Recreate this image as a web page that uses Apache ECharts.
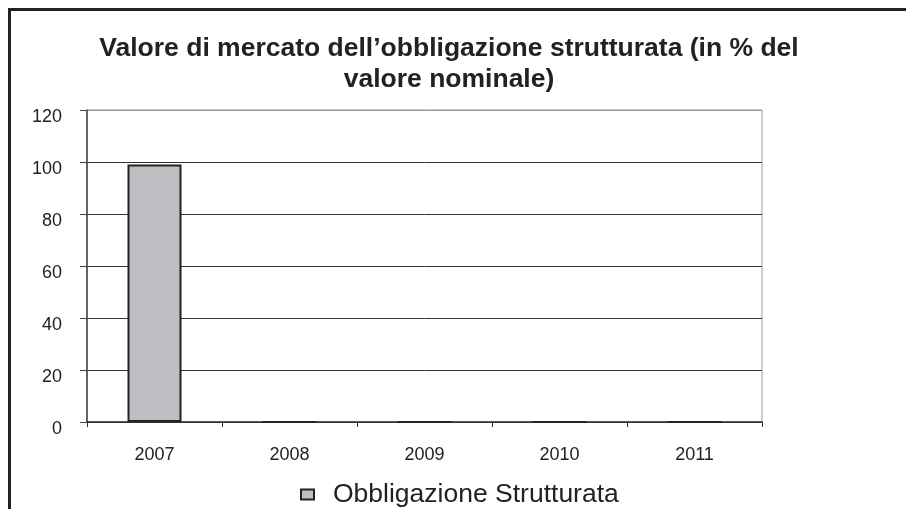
<!DOCTYPE html>
<html>
<head>
<meta charset="utf-8">
<script src="https://cdn.jsdelivr.net/npm/echarts@6/dist/echarts.min.js"></script>
<style>
  html, body { margin: 0; padding: 0; background: #fff; }
  #main { width: 906px; height: 509px; }
</style>
</head>
<body>
<div id="main"></div>
<script>
var years = ['2007', '2008', '2009', '2010', '2011'];
var valori = [99, 0, 0, 0, 0];
var seriesName = 'Obbligazione Strutturata';
var titolo = 'Valore di mercato dell\u2019obbligazione strutturata (in % del\nvalore nominale)';

var dom = document.getElementById('main');
var myChart = echarts.init(dom);
var font = 'Liberation Sans, Arial, sans-serif';

var option = {
    animation: false,
    textStyle: { fontFamily: font },
    title: {
        text: titolo,
        left: 444, top: 28, textAlign: 'center',
        textStyle: { fontSize: 26.5, lineHeight: 31, fontWeight: 'bold', color: '#222', fontFamily: font }
    },
    legend: {
        top: 476,
        left: 295,
        itemWidth: 13,
        itemHeight: 10,
        icon: 'rect',
        textStyle: { fontSize: 26.5, color: '#222', fontFamily: font, padding: [0, 0, 0, 14] },
        data: [seriesName]
    },
    grid: {
        left: 87, right: 144, top: 110, bottom: 87,
        show: true,
        borderColor: '#999',
        borderWidth: 1
    },
    xAxis: {
        type: 'category',
        data: years,
        axisLine: { lineStyle: { color: '#333', width: 1.5 } },
        axisTick: { show: true, length: 5, lineStyle: { color: '#333' } },
        axisLabel: { fontSize: 18, color: '#222', margin: 24 },
        splitLine: { show: false }
    },
    yAxis: {
        type: 'value',
        min: 0, max: 120, interval: 20,
        axisLine: { show: true, lineStyle: { color: '#444', width: 1.5 } },
        axisTick: { show: true, length: 7, lineStyle: { color: '#444' } },
        axisLabel: { fontSize: 18, lineHeight: 14, verticalAlign: 'top', color: '#222', margin: 25 },
        splitLine: {
            show: true,
            lineStyle: { color: ['#333', '#333', '#333', '#333', '#333', '#333', '#999'], width: 1 }
        }
    },
    series: [
        {
            name: seriesName,
            type: 'bar',
            barWidth: 54,
            data: valori,
            itemStyle: { color: '#bebfc3', borderColor: '#222', borderWidth: 2 }
        }
    ],
    graphic: [
        {
            type: 'polyline',
            shape: { points: [[9.5, 509], [9.5, 9.5], [906, 9.5]] },
            style: { stroke: '#222', lineWidth: 3, fill: null },
            silent: true
        }
    ]
};

myChart.setOption(option);
window.addEventListener('resize', function () { myChart.resize(); });
</script>
</body>
</html>
